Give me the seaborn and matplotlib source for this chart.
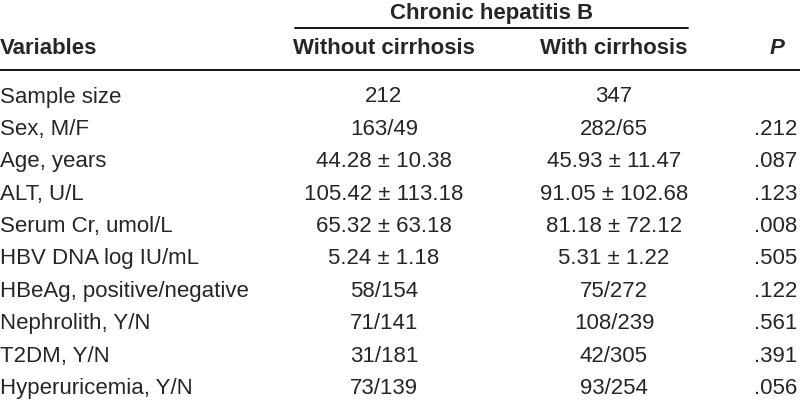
import matplotlib
matplotlib.use("Agg")
import matplotlib.pyplot as plt
import seaborn as sns

sns.set_theme(style="white")
plt.rcParams['font.family'] = ['Liberation Sans Narrow', 'Liberation Sans', 'DejaVu Sans']

# 표 데이터
group_title = "Chronic hepatitis B"
headers = ["Variables", "Without cirrhosis", "With cirrhosis", "P"]
variables = ["Sample size", "Sex, M/F", "Age, years", "ALT, U/L", "Serum Cr, umol/L",
             "HBV DNA log IU/mL", "HBeAg, positive/negative", "Nephrolith, Y/N",
             "T2DM, Y/N", "Hyperuricemia, Y/N"]
without_cirrhosis = ["212", "163/49", "44.28 \u00b1 10.38", "105.42 \u00b1 113.18", "65.32 \u00b1 63.18",
                     "5.24 \u00b1 1.18", "58/154", "71/141", "31/181", "73/139"]
with_cirrhosis = ["347", "282/65", "45.93 \u00b1 11.47", "91.05 \u00b1 102.68", "81.18 \u00b1 72.12",
                  "5.31 \u00b1 1.22", "75/272", "108/239", "42/305", "93/254"]
p_values = ["", ".212", ".087", ".123", ".008", ".505", ".122", ".561", ".391", ".056"]

fig = plt.figure(figsize=(8, 4.02), dpi=100)
ax = fig.add_axes([0, 0, 1, 1])
ax.set_xlim(0, 800)
ax.set_ylim(402, 0)
ax.axis('off')

fs = 16
# 헤더
ax.text(492, 14, group_title, ha='center', va='center', fontsize=fs, fontweight='bold')
ax.plot([295, 688], [29, 29], color='black', lw=1.3)
ax.text(0, 48, headers[0], ha='left', va='center', fontsize=fs, fontweight='bold')
ax.text(384, 48, headers[1], ha='center', va='center', fontsize=fs, fontweight='bold')
ax.text(614, 48, headers[2], ha='center', va='center', fontsize=fs, fontweight='bold')
ax.text(777, 48, headers[3], ha='center', va='center', fontsize=fs, fontweight='bold', style='italic')
ax.plot([0, 800], [71, 71], color='black', lw=1.3)

# 본문 행
y0, dy = 97, 32.4
for i in range(len(variables)):
    y = y0 + i * dy
    ax.text(0, y, variables[i], ha='left', va='center', fontsize=fs)
    ax.text(384, y, without_cirrhosis[i], ha='center', va='center', fontsize=fs)
    ax.text(614, y, with_cirrhosis[i], ha='center', va='center', fontsize=fs)
    ax.text(797, y, p_values[i], ha='right', va='center', fontsize=fs)

fig.savefig("out.png", dpi=100, facecolor='white')
